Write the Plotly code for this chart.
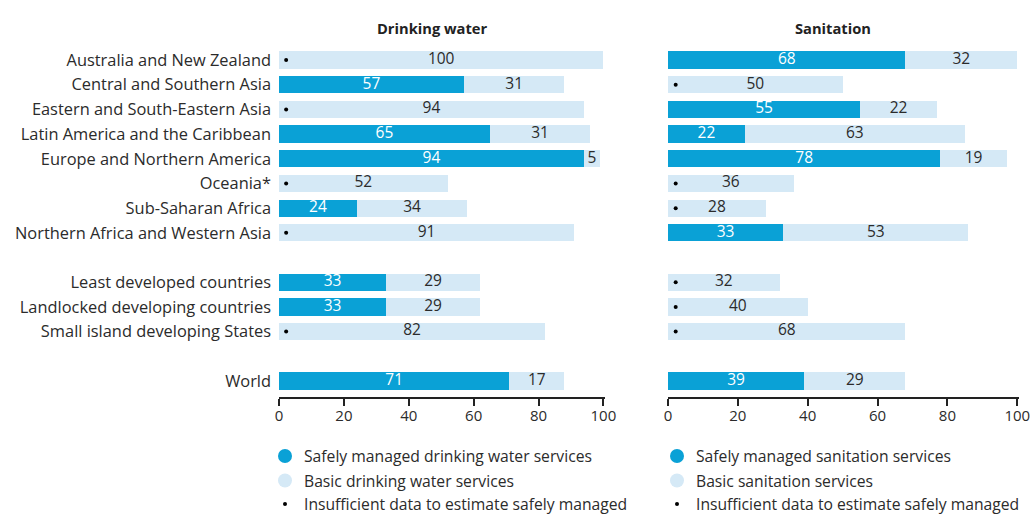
import plotly.graph_objects as go

# Regions and groupings shown on the vertical axis
regions = [
    "Australia and New Zealand",
    "Central and Southern Asia",
    "Eastern and South-Eastern Asia",
    "Latin America and the Caribbean",
    "Europe and Northern America",
    "Oceania*",
    "Sub-Saharan Africa",
    "Northern Africa and Western Asia",
    "Least developed countries",
    "Landlocked developing countries",
    "Small island developing States",
    "World",
]
# Row slots (gaps separate regions, country groups and the world total)
row_pos = [0, 1, 2, 3, 4, 5, 6, 7, 9, 10, 11, 13]

# Drinking water coverage (%); None = insufficient data for safely managed
water_safe = [None, 57, None, 65, 94, None, 24, None, 33, 33, None, 71]
water_basic = [100, 31, 94, 31, 5, 52, 34, 91, 29, 29, 82, 17]

# Sanitation coverage (%)
san_safe = [68, None, 55, 22, 78, None, None, 33, None, None, None, 39]
san_basic = [32, 50, 22, 63, 19, 36, 28, 53, 32, 40, 68, 29]

x_ticks = [0, 20, 40, 60, 80, 100]

DARK = "#0aa1d6"
LIGHT = "#d5e9f6"
TEXT = "#2b2b2b"
FONT = "Open Sans"

fig = go.Figure()


def add_panel(safe, basic, xa):
    safe_vals = [s if s is not None else 0 for s in safe]
    fig.add_trace(go.Bar(
        x=safe_vals, y=row_pos, orientation="h", width=0.7,
        marker=dict(color=DARK, line=dict(width=0)),
        xaxis=xa, yaxis="y", hoverinfo="skip", showlegend=False))
    fig.add_trace(go.Bar(
        x=basic, y=row_pos, base=safe_vals, orientation="h", width=0.7,
        marker=dict(color=LIGHT, line=dict(width=0)),
        xaxis=xa, yaxis="y", hoverinfo="skip", showlegend=False))
    # value labels centred in each segment
    sx, sy, st = [], [], []
    for s, y in zip(safe, row_pos):
        if s is not None:
            sx.append(s / 2); sy.append(y); st.append(str(s))
    fig.add_trace(go.Scatter(
        x=sx, y=sy, text=st, mode="text",
        textfont=dict(color="white", size=15.5, family=FONT),
        xaxis=xa, yaxis="y", hoverinfo="skip", showlegend=False))
    bx = [sv + b / 2 for sv, b in zip(safe_vals, basic)]
    fig.add_trace(go.Scatter(
        x=bx, y=row_pos, text=[str(b) for b in basic], mode="text",
        textfont=dict(color=TEXT, size=15.5, family=FONT),
        xaxis=xa, yaxis="y", hoverinfo="skip", showlegend=False))
    # dot marks rows lacking safely managed estimates
    dy = [y for s, y in zip(safe, row_pos) if s is None]
    fig.add_trace(go.Scatter(
        x=[2.2] * len(dy), y=dy, mode="markers",
        marker=dict(color="black", size=4, symbol="circle"),
        xaxis=xa, yaxis="y", hoverinfo="skip", showlegend=False))


add_panel(water_safe, water_basic, "x")
add_panel(san_safe, san_basic, "x2")

W, H = 1032, 515
axis_common = dict(
    range=[0, 100.5], tickvals=x_ticks, showgrid=False, zeroline=False,
    showline=True, linecolor="#222", linewidth=1.5,
    ticks="outside", ticklen=7, tickwidth=1.5, tickcolor="#222",
    ticklabelstandoff=-3,
    tickfont=dict(family=FONT, size=15, color=TEXT),
    anchor="y", fixedrange=True, automargin=False,
)

fig.update_layout(
    width=W, height=H, autosize=False,
    margin=dict(l=0, r=0, t=0, b=0, autoexpand=False),
    paper_bgcolor="white", plot_bgcolor="white",
    barmode="overlay", bargap=0,
    xaxis=dict(domain=[279 / W, 605 / W], **axis_common),
    xaxis2=dict(domain=[668 / W, 1019 / W], **axis_common),
    yaxis=dict(
        domain=[1 - 397 / H, 1 - 44 / H], range=[13.65, -0.65],
        tickvals=row_pos, ticktext=regions, showgrid=False, zeroline=False,
        showline=False, ticks="", ticklabelstandoff=7, automargin=False,
        tickfont=dict(family=FONT, size=16.4, color=TEXT), fixedrange=True,
    ),
    showlegend=False,
)

# panel headings
for label, xc in [("Drinking water", 432), ("Sanitation", 833)]:
    fig.add_annotation(
        x=xc / W, y=1 - 28 / H, xref="paper", yref="paper", text=f"<b>{label}</b>",
        showarrow=False, font=dict(family=FONT, size=14.7, color="#222"),
        xanchor="center", yanchor="middle")

# legends beneath each panel
legends = [
    (285, ["Safely managed drinking water services", "Basic drinking water services",
           "Insufficient data to estimate safely managed"]),
    (677, ["Safely managed sanitation services", "Basic sanitation services",
           "Insufficient data to estimate safely managed"]),
]
rows_y = [456, 480.5, 504]
for cx, labels in legends:
    for i, (lab, yy) in enumerate(zip(labels, rows_y)):
        r = 7 if i < 2 else 2
        col = [DARK, LIGHT, "black"][i]
        fig.add_shape(type="circle", xref="paper", yref="paper",
                      x0=(cx - r) / W, x1=(cx + r) / W,
                      y0=1 - (yy + r) / H, y1=1 - (yy - r) / H,
                      fillcolor=col, line=dict(width=0))
        fig.add_annotation(
            x=(cx + 18) / W, y=1 - yy / H, xref="paper", yref="paper", text=lab,
            showarrow=False, font=dict(family=FONT, size=15.7, color=TEXT),
            xanchor="left", yanchor="middle", borderpad=0)

fig.write_html("out.html")
